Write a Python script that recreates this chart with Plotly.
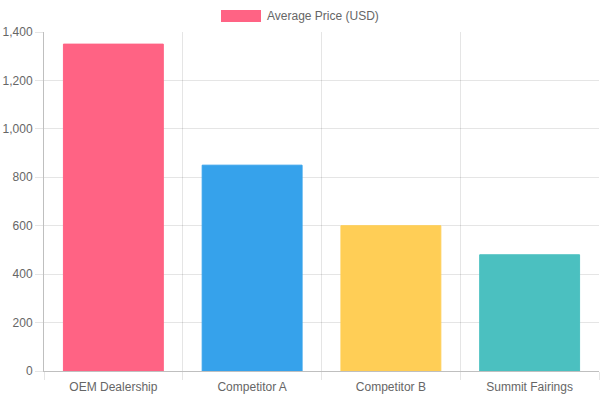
import plotly.graph_objects as go

categories = ["OEM Dealership", "Competitor A", "Competitor B", "Summit Fairings"]
prices = [1350, 850, 600, 480]
bar_colors = ["#FF6384", "#36A2EB", "#FFCE56", "#4BC0C0"]
series_name = "Average Price (USD)"
y_ticks = [0, 200, 400, 600, 800, 1000, 1200, 1400]

FONT = "Liberation Sans, Arial, sans-serif"
GRID = "rgba(0,0,0,0.1)"

fig = go.Figure()
fig.add_trace(go.Bar(
    x=categories, y=prices, name=series_name,
    marker=dict(color=bar_colors, line=dict(color=bar_colors, width=1)),
    showlegend=False,
))

fig.update_layout(
    width=600, height=400,
    margin=dict(l=44, r=1, t=32, b=29),
    paper_bgcolor="white", plot_bgcolor="white",
    font=dict(family=FONT, size=12, color="#666"),
    bargap=0.28,
    xaxis=dict(
        showgrid=True, gridcolor=GRID, gridwidth=1,
        tickson="boundaries", ticks="outside", ticklen=8, tickcolor=GRID,
        ticklabelstandoff=5,
        showline=True, linecolor="rgba(0,0,0,0.25)", linewidth=1,
        tickfont=dict(family=FONT, size=12, color="#666"),
        fixedrange=True,
    ),
    yaxis=dict(
        range=[0, 1400], tickvals=y_ticks, tickformat=",d",
        showgrid=True, gridcolor=GRID, gridwidth=1,
        ticks="outside", ticklen=8, tickcolor=GRID,
        showline=True, linecolor="rgba(0,0,0,0.25)", linewidth=1,
        zeroline=False,
        tickfont=dict(family=FONT, size=12, color="#666"),
        fixedrange=True,
    ),
    shapes=[dict(type="rect", xref="paper", yref="paper",
                 x0=(221 - 44) / 555, x1=(261 - 44) / 555,
                 y0=(371 - 22) / 339, y1=(371 - 10) / 339,
                 fillcolor=bar_colors[0], line=dict(width=0))],
    annotations=[dict(text=series_name, xref="paper", yref="paper",
                      x=(265 - 44) / 555, y=(371 - 16) / 339,
                      xanchor="left", yanchor="middle", showarrow=False,
                      font=dict(family=FONT, size=12, color="#666"))],
)

fig.write_html("out.html")
